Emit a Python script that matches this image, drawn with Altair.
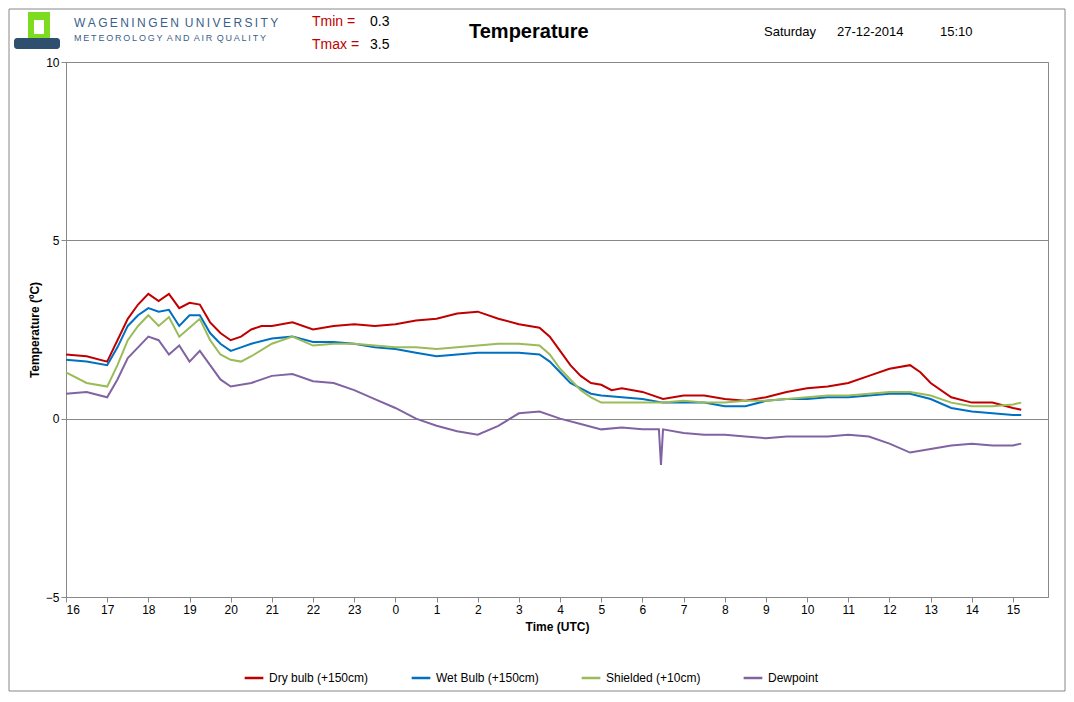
import altair as alt
import pandas as pd

# clock hours (UTC) and temperatures
dry_t = [16, 16.5, 17, 17.25, 17.5, 17.75, 18, 18.25, 18.5, 18.75, 19, 19.25, 19.5, 19.75, 20, 20.25, 20.5, 20.75,
         21, 21.5, 22, 22.5, 23, 23.5, 0, 0.5, 1, 1.5, 2, 2.5, 3, 3.5, 3.75, 4, 4.25, 4.5, 4.75, 5, 5.25, 5.5,
         6, 6.5, 7, 7.5, 8, 8.5, 9, 9.5, 10, 10.5, 11, 11.5, 12, 12.5, 12.75, 13, 13.5, 14, 14.5, 15, 15.2]
dry_v = [1.8, 1.75, 1.6, 2.2, 2.8, 3.2, 3.5, 3.3, 3.5, 3.1, 3.25, 3.2, 2.7, 2.4, 2.2, 2.3, 2.5, 2.6,
         2.6, 2.7, 2.5, 2.6, 2.65, 2.6, 2.65, 2.75, 2.8, 2.95, 3.0, 2.8, 2.65, 2.55, 2.3, 1.9, 1.5, 1.2, 1.0, 0.95, 0.8, 0.85,
         0.75, 0.55, 0.65, 0.65, 0.55, 0.5, 0.6, 0.75, 0.85, 0.9, 1.0, 1.2, 1.4, 1.5, 1.3, 1.0, 0.6, 0.45, 0.45, 0.3, 0.25]

wet_t = [16, 16.5, 17, 17.25, 17.5, 17.75, 18, 18.25, 18.5, 18.75, 19, 19.25, 19.5, 19.75, 20, 20.25, 20.5,
         21, 21.5, 22, 22.5, 23, 23.5, 0, 0.5, 1, 1.5, 2, 2.5, 3, 3.5, 3.75, 4, 4.25, 4.5, 4.75, 5, 5.5,
         6, 6.5, 7, 7.5, 8, 8.5, 9, 9.5, 10, 10.5, 11, 11.5, 12, 12.5, 13, 13.5, 14, 14.5, 15, 15.2]
wet_v = [1.65, 1.6, 1.5, 2.0, 2.6, 2.9, 3.1, 3.0, 3.05, 2.6, 2.9, 2.9, 2.4, 2.1, 1.9, 2.0, 2.1,
         2.25, 2.3, 2.15, 2.15, 2.1, 2.0, 1.95, 1.85, 1.75, 1.8, 1.85, 1.85, 1.85, 1.8, 1.6, 1.3, 1.0, 0.85, 0.7, 0.65, 0.6,
         0.55, 0.45, 0.45, 0.45, 0.35, 0.35, 0.5, 0.55, 0.55, 0.6, 0.6, 0.65, 0.7, 0.7, 0.55, 0.3, 0.2, 0.15, 0.1, 0.1]

shd_t = wet_t
shd_v = [1.3, 1.0, 0.9, 1.5, 2.2, 2.6, 2.9, 2.6, 2.85, 2.3, 2.55, 2.8, 2.2, 1.8, 1.65, 1.6, 1.75,
         2.1, 2.3, 2.05, 2.1, 2.1, 2.05, 2.0, 2.0, 1.95, 2.0, 2.05, 2.1, 2.1, 2.05, 1.8, 1.4, 1.1, 0.8, 0.6, 0.45, 0.45,
         0.45, 0.45, 0.5, 0.45, 0.45, 0.5, 0.5, 0.55, 0.6, 0.65, 0.65, 0.7, 0.75, 0.75, 0.65, 0.45, 0.35, 0.35, 0.4, 0.45]

dew_t = [16, 16.5, 17, 17.25, 17.5, 17.75, 18, 18.25, 18.5, 18.75, 19, 19.25, 19.5, 19.75, 20, 20.5,
         21, 21.5, 22, 22.5, 23, 23.5, 0, 0.5, 1, 1.5, 2, 2.5, 3, 3.5, 4, 4.5, 5, 5.5, 6, 6.4, 6.45, 6.5,
         7, 7.5, 8, 8.5, 9, 9.5, 10, 10.5, 11, 11.5, 12, 12.5, 13, 13.5, 14, 14.5, 15, 15.2]
dew_v = [0.7, 0.75, 0.6, 1.1, 1.7, 2.0, 2.3, 2.2, 1.8, 2.05, 1.6, 1.9, 1.5, 1.1, 0.9, 1.0,
         1.2, 1.25, 1.05, 1.0, 0.8, 0.55, 0.3, 0.0, -0.2, -0.35, -0.45, -0.2, 0.15, 0.2, 0.0, -0.15, -0.3, -0.25, -0.3, -0.3, -1.3, -0.3,
         -0.4, -0.45, -0.45, -0.5, -0.55, -0.5, -0.5, -0.5, -0.45, -0.5, -0.7, -0.95, -0.85, -0.75, -0.7, -0.75, -0.75, -0.7]

series = ["Dry bulb (+150cm)", "Wet Bulb (+150cm)", "Shielded (+10cm)", "Dewpoint"]
colors = ["#c00000", "#0070c0", "#9bbb59", "#8064a2"]

rows = []
for name, ts, vs in zip(series, [dry_t, wet_t, shd_t, dew_t], [dry_v, wet_v, shd_v, dew_v]):
    for i, (t, v) in enumerate(zip(ts, vs)):
        rows.append({"series": name, "h": (t - 16) % 24, "temp": v, "order": i})
df = pd.DataFrame(rows)

W, H = 982, 535
TS = "\u2009"  # thin space for letter spacing
NB = "\u00a0"


def spaced(words):
    return (NB + TS).join(TS.join(w) for w in words)


lines = alt.Chart(df).mark_line(strokeWidth=2).encode(
    x=alt.X("h:Q", title="Time (UTC)", scale=alt.Scale(domain=[0, 23.85], nice=False),
            axis=alt.Axis(values=list(range(24)), labelExpr="(datum.value + 16) % 24", grid=False,
                          domainColor="#888", tickColor="#888", labelColor="black", labelFontSize=12,
                          titleFontSize=12, titleFontWeight="bold", titlePadding=6)),
    y=alt.Y("temp:Q", title="Temperature (ºC)", scale=alt.Scale(domain=[-5, 10], nice=False),
            axis=alt.Axis(values=[-5, 0, 5, 10], gridColor="#888", domainColor="#888", tickColor="#888",
                          labelColor="black", labelFontSize=12, titleFontSize=12, titleFontWeight="bold")),
    color=alt.Color("series:N", sort=series, scale=alt.Scale(domain=series, range=colors),
                    legend=alt.Legend(title=None, orient="none", direction="horizontal", legendX=177, legendY=605,
                                      symbolType="stroke", symbolStrokeWidth=2.5, symbolSize=350,
                                      labelFontSize=12, columnPadding=37)),
    order="order:Q",
)

hdr = pd.DataFrame({
    "txt": [spaced(["WAGENINGEN", "UNIVERSITY"]), spaced(["METEOROLOGY", "AND", "AIR", "QUALITY"]),
            "Tmin =", "0.3", "Tmax =", "3.5", "Saturday", "27-12-2014", "15:10"],
    "px": [8, 8, 246, 304, 246, 304, 698, 771, 874],
    "py": [-39, -24, -40, -40, -17, -17, -30, -30, -30],
    "col": ["#3a5f8a", "#3a5f8a", "#c00000", "black", "#c00000", "black", "black", "black", "black"],
    "fs": [12, 9, 14, 14, 14, 14, 13, 13, 13],
})
texts = alt.Chart(hdr).mark_text(align="left", baseline="middle", font="Liberation Sans").encode(
    x=alt.X("px:Q", scale=None), y=alt.Y("py:Q", scale=None),
    text="txt:N", color=alt.Color("col:N", scale=None), size=alt.Size("fs:Q", scale=None),
)
title = alt.Chart(pd.DataFrame({"t": ["Temperature"]})).mark_text(
    align="left", baseline="middle", font="Liberation Sans", fontSize=20, fontWeight="bold", color="black"
).encode(x=alt.value(403), y=alt.value(-30), text="t:N")

logo = alt.Chart(pd.DataFrame({"a": [0]})).mark_rect(color="#7ddc1f").encode(
    x=alt.value(-38), x2=alt.value(-16), y=alt.value(-50), y2=alt.value(-22))
logo_hole = alt.Chart(pd.DataFrame({"a": [0]})).mark_rect(color="white").encode(
    x=alt.value(-32), x2=alt.value(-22), y=alt.value(-42), y2=alt.value(-28))
logo_base = alt.Chart(pd.DataFrame({"a": [0]})).mark_rect(color="#2f4f6f", cornerRadius=3).encode(
    x=alt.value(-52), x2=alt.value(-6), y=alt.value(-24), y2=alt.value(-13))
frame = alt.Chart(pd.DataFrame({"a": [0]})).mark_rect(fill=None, stroke="#888", strokeWidth=1).encode(
    x=alt.value(-57), x2=alt.value(W + 17), y=alt.value(-53), y2=alt.value(H + 94))

chart = alt.layer(frame, lines, texts, title, logo, logo_hole, logo_base).properties(
    width=W, height=H, autosize="none",
    padding={"left": 58, "top": 54, "right": 18, "bottom": 97},
).configure_view(stroke="#888").configure_axis(labelFont="Liberation Sans", titleFont="Liberation Sans") \
 .configure_legend(labelFont="Liberation Sans")

chart.save("out.html", embed_options={"renderer": "svg", "actions": False})
